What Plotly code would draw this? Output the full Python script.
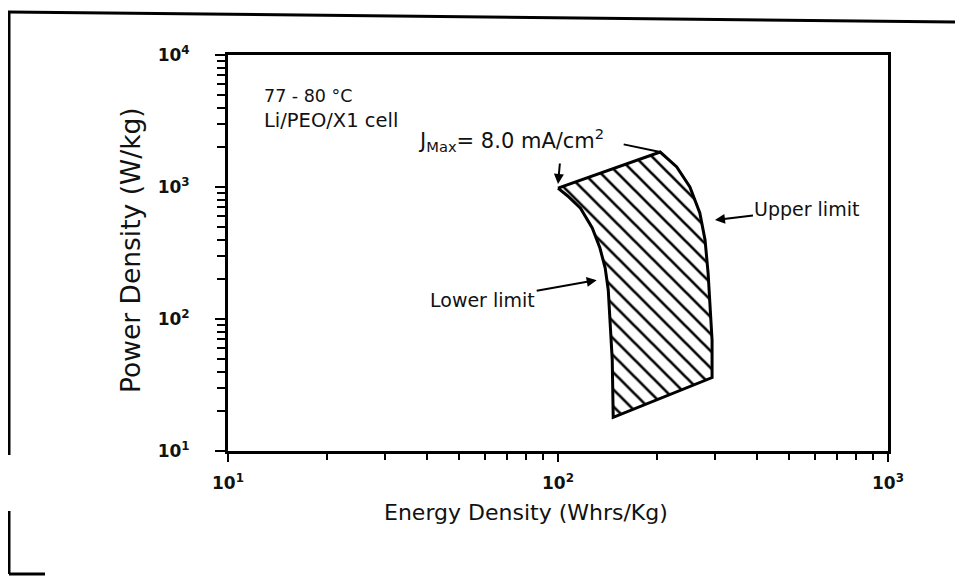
import numpy as np
import plotly.graph_objects as go

# ---- data ----
top_x = [100, 204]
top_y = [980, 1840]
upper_x = [204, 229, 251, 269, 279, 285, 289, 293, 293]
upper_y = [1840, 1420, 1000, 635, 397, 223, 123, 69, 36]
bottom_x = [293, 147]
bottom_y = [36, 18]
lower_x = [147, 146, 144, 142, 139, 134, 127, 117, 107, 100]
lower_y = [18, 49, 98, 166, 243, 345, 490, 690, 855, 980]

major_vals = [10, 100, 1000, 10000]
major_text = ["10<sup>1</sup>", "10<sup>2</sup>", "10<sup>3</sup>", "10<sup>4</sup>"]
minor_digits = [2, 3, 4, 5, 6, 7, 8, 9]

OFF = 8  # page body margin
W, H = 963 - OFF, 577 - OFF
L, R, T, B = 228 - OFF, 888 - OFF, 55 - OFF, 451 - OFF


def pp(px, py):
    """page pixel -> paper coords"""
    px -= OFF
    py -= OFF
    return (px - L) / (R - L), (B - py) / (B - T)


poly_x = top_x + upper_x[1:] + bottom_x[1:] + lower_x[1:]
poly_y = top_y + upper_y[1:] + bottom_y[1:] + lower_y[1:]

fig = go.Figure()
fig.add_trace(go.Scatter(
    x=poly_x, y=poly_y, mode="lines", fill="toself",
    fillcolor="white",
    fillpattern=dict(shape="\\", size=12, solidity=0.22, fgcolor="#000000",
                     fgopacity=1, bgcolor="white"),
    line=dict(color="black", width=3), showlegend=False, hoverinfo="skip"))

minor_x = [d * m for d in [10, 100] for m in minor_digits]
minor_y = [d * m for d in [10, 100, 1000] for m in minor_digits]

tickfont = dict(family="DejaVu Sans", size=17, color="#111", weight="bold")
fig.update_xaxes(type="log", range=[1, 3], tickvals=major_vals[:3], ticktext=major_text[:3],
                 ticks="outside", ticklen=8, tickwidth=2, tickcolor="black",
                 showline=True, linecolor="black", linewidth=3, mirror=True,
                 showgrid=False, zeroline=False, tickfont=tickfont, ticklabelstandoff=7,
                 minor=dict(tickvals=minor_x, ticks="outside", ticklen=6, tickwidth=1.5,
                            tickcolor="black", showgrid=False))
fig.update_yaxes(type="log", range=[1, 4], tickvals=major_vals, ticktext=major_text,
                 ticks="outside", ticklen=10, tickwidth=2, tickcolor="black",
                 showline=True, linecolor="black", linewidth=3, mirror=True,
                 showgrid=False, zeroline=False, tickfont=tickfont, ticklabelstandoff=22,
                 minor=dict(tickvals=minor_y, ticks="outside", ticklen=8, tickwidth=1.5,
                            tickcolor="black", showgrid=False))

anns = []
# axis titles
x0, y0 = pp(526, 512)
anns.append(dict(xref="paper", yref="paper", x=x0, y=y0, text="Energy Density (Whrs/Kg)",
                 showarrow=False, font=dict(family="DejaVu Sans", size=22, color="#111"),
                 xanchor="center", yanchor="middle"))
x0, y0 = pp(130, 250)
anns.append(dict(xref="paper", yref="paper", x=x0, y=y0, text="Power Density (W/kg)",
                 showarrow=False, textangle=-90,
                 font=dict(family="DejaVu Sans", size=26.5, color="#111"),
                 xanchor="center", yanchor="middle"))
# top-left labels
x0, y0 = pp(262, 96)
anns.append(dict(xref="paper", yref="paper", x=x0, y=y0, text="77 - 80 °C", showarrow=False,
                 font=dict(family="DejaVu Sans", size=17.5, color="#111"),
                 xanchor="left", yanchor="middle"))
x0, y0 = pp(262, 121)
anns.append(dict(xref="paper", yref="paper", x=x0, y=y0, text="Li/PEO/X1 cell", showarrow=False,
                 font=dict(family="DejaVu Sans", size=19.5, color="#111"),
                 xanchor="left", yanchor="middle"))
# J max label
x0, y0 = pp(416, 140)
anns.append(dict(xref="paper", yref="paper", x=x0, y=y0,
                 text="J<sub>Max</sub>= 8.0 mA/cm<sup>2</sup>", showarrow=False,
                 font=dict(family="DejaVu Sans", size=21, color="#111"),
                 xanchor="left", yanchor="middle"))
# arrow to J max corner
anns.append(dict(x=np.log10(lower_x[-1]), y=np.log10(1054), xref="x", yref="y", text="",
                 showarrow=True, ax=2, ay=-22, arrowhead=2, arrowsize=1, arrowwidth=2,
                 arrowcolor="black"))
# line from label to top right corner
anns.append(dict(x=np.log10(top_x[-1]), y=np.log10(top_y[-1]), xref="x", yref="y", text="",
                 showarrow=True, ax=-38, ay=-8, arrowhead=0, arrowwidth=2, arrowcolor="black"))
# upper / lower limit labels
anns.append(dict(x=np.log10(299), y=np.log10(562), xref="x", yref="y", text="Upper limit",
                 showarrow=True, ax=92, ay=-11, arrowhead=2, arrowsize=1, arrowwidth=2,
                 arrowcolor="black", font=dict(family="DejaVu Sans", size=19, color="#111")))
anns.append(dict(x=np.log10(131), y=np.log10(197), xref="x", yref="y", text="Lower limit",
                 showarrow=True, ax=-114, ay=20, arrowhead=2, arrowsize=1, arrowwidth=2,
                 arrowcolor="black", font=dict(family="DejaVu Sans", size=19, color="#111")))
fig.update_layout(annotations=anns)

# outer frame of the scanned figure
shapes = []
for (a, b) in [((8, 12), (963, 22)), ((9, 12), (9, 455)), ((9, 511), (9, 574)), ((9, 574), (45, 574))]:
    xa, ya = pp(*a)
    xb, yb = pp(*b)
    shapes.append(dict(type="line", xref="paper", yref="paper", x0=xa, y0=ya, x1=xb, y1=yb,
                       line=dict(color="black", width=3)))
fig.update_layout(shapes=shapes)

fig.update_layout(width=W, height=H, margin=dict(l=L, r=W - R, t=T, b=H - B),
                  paper_bgcolor="white", plot_bgcolor="white", showlegend=False)

fig.write_html("out.html")
